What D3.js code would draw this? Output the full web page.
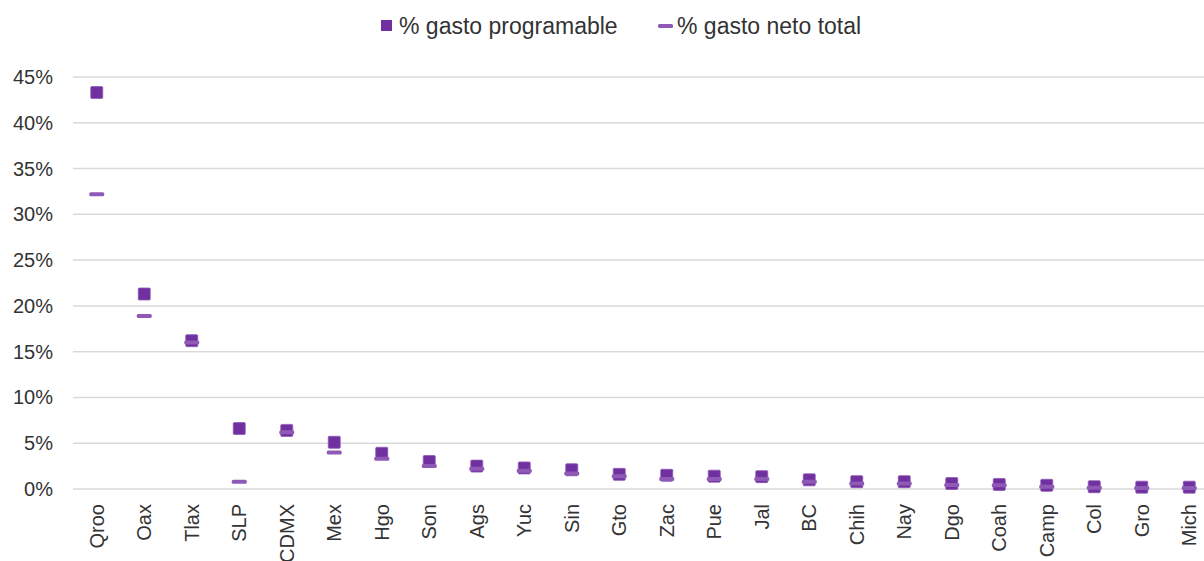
<!DOCTYPE html>
<html>
<head>
<meta charset="utf-8">
<script src="https://cdn.jsdelivr.net/npm/d3@7"></script>
<style>
  body { margin: 0; background: #fff; }
  text { font-family: "Liberation Sans", Arial, sans-serif; fill: #333; }
</style>
</head>
<body>
<svg id="chart"></svg>
<script>
const states = ["Qroo", "Oax", "Tlax", "SLP", "CDMX", "Mex", "Hgo", "Son", "Ags", "Yuc", "Sin", "Gto",
  "Zac", "Pue", "Jal", "BC", "Chih", "Nay", "Dgo", "Coah", "Camp", "Col", "Gro", "Mich"];
const gastoProgramable = [43.3, 21.3, 16.2, 6.6, 6.4, 5.1, 3.9, 3.0, 2.5, 2.3, 2.1, 1.6,
  1.5, 1.4, 1.35, 1.0, 0.8, 0.8, 0.6, 0.5, 0.4, 0.25, 0.2, 0.2];
const gastoNetoTotal = [32.2, 18.9, 16.0, 0.8, 6.2, 4.0, 3.3, 2.5, 2.2, 2.0, 1.7, 1.4,
  1.1, 1.1, 1.1, 0.8, 0.6, 0.6, 0.45, 0.4, 0.25, 0.15, 0.1, 0.1];
const yTicks = [0, 5, 10, 15, 20, 25, 30, 35, 40, 45];

const width = 1204;
const height = 561;

const svg = d3.select("#chart")
  .attr("width", width)
  .attr("height", height);

// Scales
const x = d3.scaleBand().domain(states).range([73, 1213]);
const y = d3.scaleLinear().domain([0, 45]).range([489, 77]);

// Gridlines
svg.selectAll(".grid")
  .data(yTicks)
  .enter()
  .append("line")
  .attr("class", "grid")
  .attr("x1", 73)
  .attr("x2", width)
  .attr("y1", d => y(d))
  .attr("y2", d => y(d))
  .attr("stroke", "#d9d9d9")
  .attr("stroke-width", 1.5);

// Y axis labels
svg.selectAll(".ytick")
  .data(yTicks)
  .enter()
  .append("text")
  .attr("class", "ytick")
  .attr("x", 53)
  .attr("y", d => y(d) + 7)
  .attr("text-anchor", "end")
  .style("font-size", "20px")
  .text(d => d + "%");

// X axis labels
svg.selectAll(".xtick")
  .data(states)
  .enter()
  .append("text")
  .attr("class", "xtick")
  .attr("transform", d => `translate(${x(d) + x.bandwidth() / 2 + 7},504) rotate(-90)`)
  .attr("text-anchor", "end")
  .style("font-size", "20px")
  .text(d => d);

// Square markers: % gasto programable
svg.selectAll(".sq")
  .data(gastoProgramable)
  .enter()
  .append("rect")
  .attr("class", "sq")
  .attr("x", (d, i) => x(states[i]) + x.bandwidth() / 2 - 6)
  .attr("y", d => y(d) - 6)
  .attr("width", 12)
  .attr("height", 12)
  .attr("rx", 1)
  .attr("fill", "#7030a0")
  .attr("stroke", "#8e5ab5")
  .attr("stroke-width", 0.8);

// Dash markers: % gasto neto total
svg.selectAll(".dash")
  .data(gastoNetoTotal)
  .enter()
  .append("rect")
  .attr("class", "dash")
  .attr("x", (d, i) => x(states[i]) + x.bandwidth() / 2 - 7.5)
  .attr("y", d => y(d) - 2)
  .attr("width", 15)
  .attr("height", 4)
  .attr("rx", 1.5)
  .attr("fill", "#8e5ab5");

// Legend
const legend = svg.append("g");
legend.append("rect")
  .attr("x", 381)
  .attr("y", 20)
  .attr("width", 11)
  .attr("height", 11)
  .attr("fill", "#7030a0");
legend.append("text")
  .attr("x", 399)
  .attr("y", 34)
  .style("font-size", "23px")
  .text("% gasto programable");
legend.append("rect")
  .attr("x", 658)
  .attr("y", 24)
  .attr("width", 15)
  .attr("height", 4)
  .attr("rx", 1.5)
  .attr("fill", "#8e5ab5");
legend.append("text")
  .attr("x", 677)
  .attr("y", 34)
  .style("font-size", "23px")
  .text("% gasto neto total");
</script>
</body>
</html>
